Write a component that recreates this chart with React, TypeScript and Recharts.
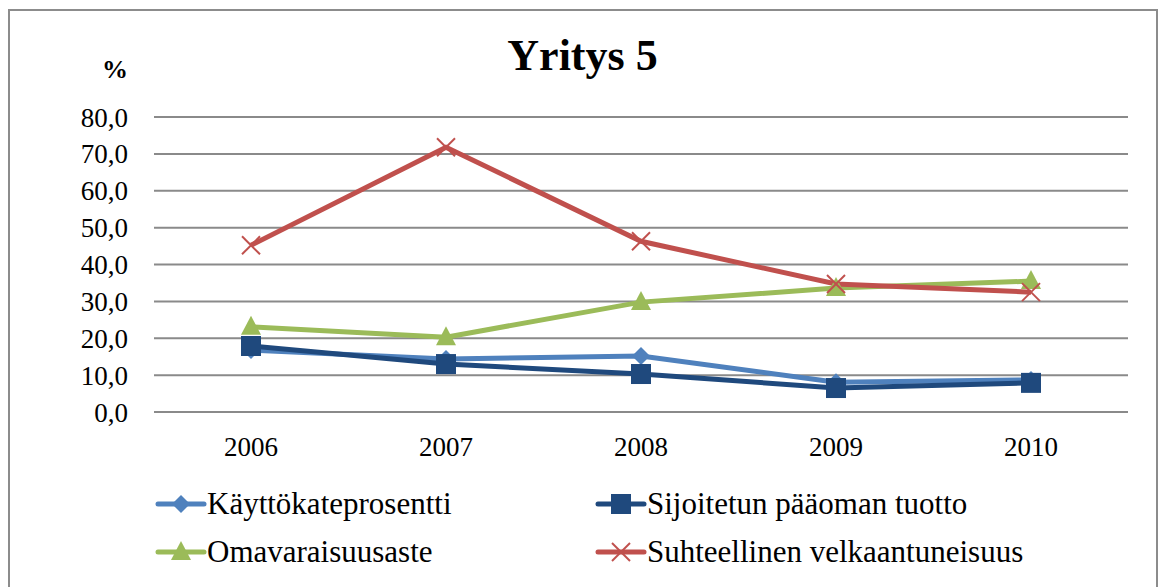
import React from 'react';
import { LineChart, Line, XAxis, YAxis, CartesianGrid } from 'recharts';

const years = ['2006', '2007', '2008', '2009', '2010'];
const kayttokate = [16.8, 14.4, 15.2, 8.1, 8.7];
const sijoitettu = [17.9, 13.0, 10.3, 6.5, 7.9];
const omavaraisuus = [23.1, 20.3, 29.8, 33.6, 35.5];
const velkaantuneisuus = [45.2, 71.8, 46.3, 34.7, 32.5];
const yTicks = [0, 10, 20, 30, 40, 50, 60, 70, 80];

const FONT = 'Liberation Serif';

const data = years.map((year, i) => ({
  year,
  kayttokate: kayttokate[i],
  sijoitettu: sijoitettu[i],
  omavaraisuus: omavaraisuus[i],
  velkaantuneisuus: velkaantuneisuus[i],
}));

type Marker = 'diamond' | 'square' | 'triangle' | 'cross';

const series: { key: string; name: string; color: string; marker: Marker }[] = [
  { key: 'kayttokate', name: 'Käyttökateprosentti', color: '#4F81BD', marker: 'diamond' },
  { key: 'sijoitettu', name: 'Sijoitetun pääoman tuotto', color: '#1F497D', marker: 'square' },
  { key: 'omavaraisuus', name: 'Omavaraisuusaste', color: '#9BBB59', marker: 'triangle' },
  { key: 'velkaantuneisuus', name: 'Suhteellinen velkaantuneisuus', color: '#C0504D', marker: 'cross' },
];

function shape(marker: Marker, x: number, y: number, color: string, key?: string) {
  switch (marker) {
    case 'diamond':
      return <polygon key={key} points={`${x},${y - 9} ${x + 9},${y} ${x},${y + 9} ${x - 9},${y}`} fill={color} />;
    case 'square':
      return <rect key={key} x={x - 10} y={y - 10} width={20} height={20} fill={color} />;
    case 'triangle':
      return <polygon key={key} points={`${x},${y - 11} ${x + 10},${y + 8} ${x - 10},${y + 8}`} fill={color} />;
    default:
      return (
        <g key={key} stroke={color} strokeWidth={2}>
          <line x1={x - 9} y1={y - 9} x2={x + 9} y2={y + 9} />
          <line x1={x - 9} y1={y + 9} x2={x + 9} y2={y - 9} />
        </g>
      );
  }
}

const fmt = (v: number) => v.toFixed(1).replace('.', ',');

export default function App() {
  return (
    <div style={{ position: 'absolute', left: 0, top: 0, width: 1163, height: 587, overflow: 'hidden', background: '#fff', fontFamily: FONT }}>
      <div style={{ position: 'absolute', left: 8, top: 9, width: 1146, height: 640, border: '2px solid #8c8c8c' }} />
      <div style={{ position: 'absolute', left: 0, width: 1163, top: 30, textAlign: 'center', fontSize: 44, fontWeight: 'bold', paddingLeft: 1 }}>
        Yritys 5
      </div>
      <div style={{ position: 'absolute', left: 102, top: 55, fontSize: 26, fontWeight: 'bold' }}>%</div>

      <div style={{ position: 'absolute', left: 0, top: 0 }}>
        <LineChart width={1163} height={587} data={data} margin={{ top: 117, right: 35, bottom: 145, left: 0 }}>
          <CartesianGrid vertical={false} stroke="#8a8a8a" strokeWidth={2} />
          <XAxis
            dataKey="year"
            height={30}
            tickLine={false}
            axisLine={false}
            tickSize={0}
            tickMargin={25}
            padding={{ left: 97, right: 97 }}
            tick={{ fill: '#000', fontSize: 27, fontFamily: FONT }}
          />
          <YAxis
            width={154}
            domain={[0, 80]}
            ticks={yTicks}
            tickFormatter={fmt}
            tickLine={false}
            axisLine={false}
            tickSize={0}
            tickMargin={26}
            tick={{ fill: '#000', fontSize: 27, fontFamily: FONT }}
          />
          {series.map((s) => (
            <Line
              key={s.key}
              dataKey={s.key}
              name={s.name}
              stroke={s.color}
              strokeWidth={5}
              isAnimationActive={false}
              dot={(p: any) => shape(s.marker, p.cx, p.cy, s.color, `${s.key}-${p.index}`)}
              activeDot={false}
            />
          ))}
        </LineChart>
      </div>

      <div style={{ position: 'absolute', left: 155, top: 488, display: 'grid', gridTemplateColumns: '440px 480px', rowGap: 16, fontSize: 31 }}>
        {series.map((s) => (
          <div key={s.key} style={{ display: 'flex', alignItems: 'center', height: 32 }}>
            <svg width={52} height={30}>
              <line x1={3} y1={15} x2={49} y2={15} stroke={s.color} strokeWidth={5} strokeLinecap="round" />
              {shape(s.marker, 26, 15, s.color)}
            </svg>
            <span>{s.name}</span>
          </div>
        ))}
      </div>
    </div>
  );
}
